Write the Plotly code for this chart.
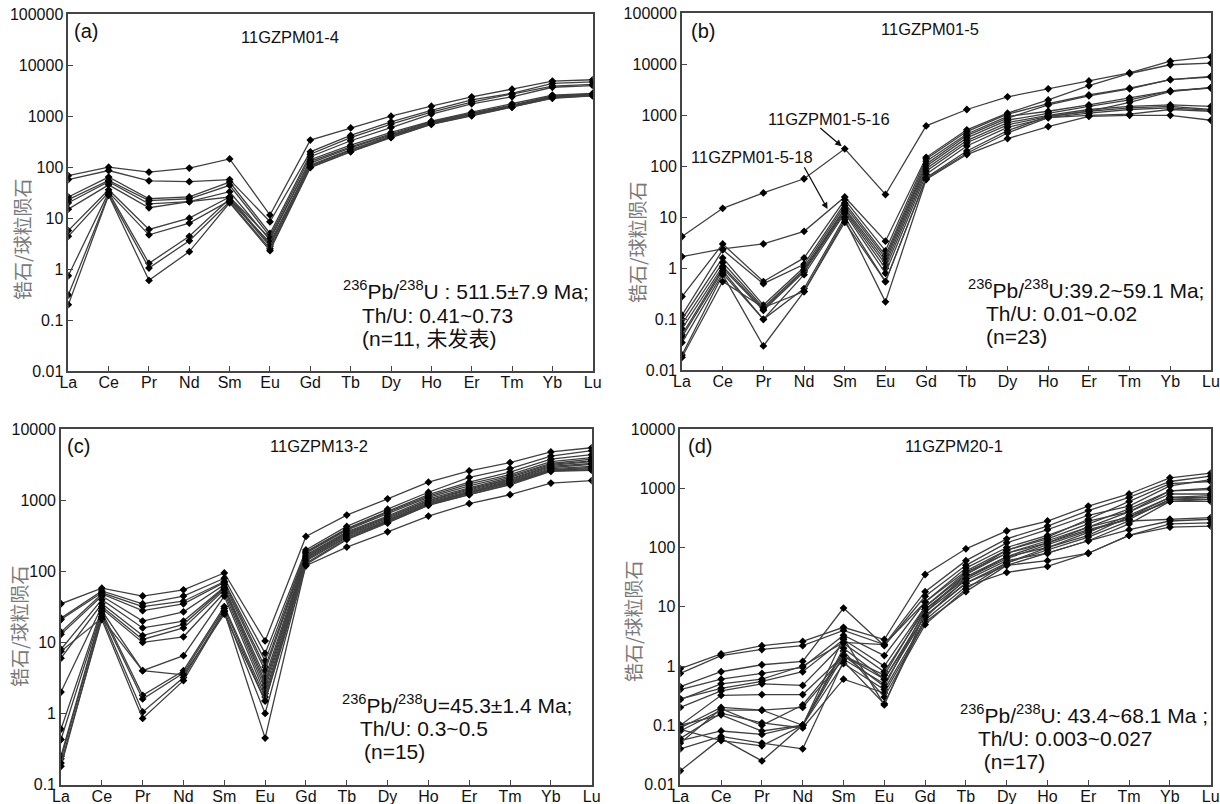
import math
import plotly.graph_objects as go

# ---------------- data ----------------
categories = ["La", "Ce", "Pr", "Nd", "Sm", "Eu", "Gd", "Tb", "Dy", "Ho", "Er", "Tm", "Yb", "Lu"]

yticks_ab = [0.01, 0.1, 1, 10, 100, 1000, 10000, 100000]
ylabels_ab = ["0.01", "0.1", "1", "10", "100", "1000", "10000", "100000"]
yticks_c = [0.1, 1, 10, 100, 1000, 10000]
ylabels_c = ["0.1", "1", "10", "100", "1000", "10000"]
yticks_d = [0.01, 0.1, 1, 10, 100, 1000, 10000]
ylabels_d = ["0.01", "0.1", "1", "10", "100", "1000", "10000"]

# (a) 11GZPM01-4
sample_a = [
    [68, 100, 80, 96, 145, 11.5, 340, 590, 1000, 1570, 2400, 3400, 4900, 5200],
    [57, 86, 54, 52, 57, 8.5, 200, 420, 775, 1300, 2100, 2800, 4400, 4700],
    [26, 64, 24, 26, 51, 5.0, 180, 380, 700, 1200, 1900, 2700, 3900, 4200],
    [23, 55, 22, 24, 44, 4.4, 160, 330, 600, 1100, 1750, 2400, 3700, 4000],
    [20, 52, 19, 21, 33, 3.7, 140, 270, 480, 800, 1200, 1750, 2600, 2800],
    [15, 45, 16, 21, 26, 3.0, 120, 240, 430, 760, 1120, 1600, 2450, 2700],
    [5.7, 36, 6.0, 10, 26, 4.0, 130, 250, 450, 780, 1150, 1650, 2500, 2750],
    [4.4, 32, 4.7, 8.0, 22, 3.3, 110, 220, 400, 730, 1080, 1560, 2400, 2600],
    [0.74, 32, 1.3, 4.4, 24, 2.8, 105, 215, 410, 720, 1050, 1550, 2350, 2600],
    [0.31, 29, 1.05, 3.6, 21, 2.5, 100, 205, 390, 700, 1040, 1520, 2300, 2550],
    [0.2, 28, 0.6, 2.2, 20, 2.3, 98, 200, 380, 690, 1020, 1500, 2250, 2500],
]

# (b) 11GZPM01-5
spot_b16 = [4.2, 15, 30, 57, 220, 28, 620, 1300, 2300, 3300, 4700, 6800, 11500, 14000]
spot_b18 = [1.7, 2.4, 3.0, 5.3, 25, 3.4, 150, 520, 1100, 2000, 3800, 6600, 9800, 10500]
sample_b = [
    spot_b16,
    spot_b18,
    [0.28, 3.0, 0.55, 1.6, 22, 2.2, 140, 480, 1050, 1700, 2500, 3400, 5000, 5800],
    [0.12, 2.3, 0.5, 1.2, 19, 1.8, 125, 430, 950, 1200, 1600, 2200, 3000, 3500],
    [0.1, 1.6, 0.19, 1.05, 17, 1.6, 110, 400, 880, 1600, 2400, 3300, 5000, 5600],
    [0.08, 1.3, 0.17, 0.95, 15, 1.4, 100, 360, 800, 1100, 1500, 2000, 3000, 3400],
    [0.065, 1.1, 0.16, 0.9, 14, 1.2, 90, 320, 720, 1000, 1300, 1500, 1600, 1500],
    [0.05, 1.0, 0.15, 0.85, 13, 1.0, 80, 290, 650, 950, 1200, 1400, 1500, 1300],
    [0.045, 0.9, 0.1, 0.75, 12, 0.8, 70, 250, 580, 900, 1100, 1300, 1400, 1250],
    [0.035, 0.8, 0.1, 0.4, 10, 0.55, 60, 200, 500, 950, 1200, 1800, 2900, 3500],
    [0.02, 0.75, 0.03, 0.35, 9, 0.22, 55, 170, 350, 600, 950, 1000, 1000, 800],
    [0.018, 0.55, 0.17, 0.35, 8, 0.55, 58, 180, 450, 900, 1000, 1050, 1300, 1200],
]

# (c) 11GZPM13-2
sample_c = [
    [35, 58, 45, 55, 95, 10.5, 310, 620, 1050, 1800, 2600, 3400, 4800, 5500],
    [22, 53, 35, 45, 80, 7.0, 200, 430, 750, 1300, 2100, 2800, 4200, 5000],
    [21, 50, 32, 38, 72, 5.5, 190, 400, 700, 1200, 1800, 2500, 3800, 4400],
    [14, 48, 28, 35, 70, 4.5, 185, 390, 680, 1150, 1700, 2300, 3500, 4000],
    [13, 45, 20, 27, 65, 4.0, 180, 380, 650, 1100, 1600, 2200, 3300, 3800],
    [8, 40, 16, 20, 60, 3.2, 170, 360, 600, 1050, 1500, 2100, 3200, 3600],
    [6, 35, 12.5, 18, 58, 2.8, 165, 350, 580, 1000, 1450, 2000, 3100, 3500],
    [2, 32, 11, 16, 55, 2.5, 160, 340, 560, 980, 1400, 1950, 3000, 3300],
    [0.6, 30, 10, 12, 50, 2.2, 155, 330, 540, 950, 1350, 1900, 2900, 3200],
    [0.43, 28, 4, 6.5, 45, 1.9, 150, 320, 520, 920, 1300, 1850, 2800, 3000],
    [0.25, 27, 1.8, 4, 32, 1.7, 145, 310, 510, 900, 1280, 1800, 2700, 2900],
    [0.23, 25, 1.6, 3.7, 30, 1.5, 140, 300, 500, 880, 1250, 1750, 2650, 2800],
    [0.18, 23, 1.05, 3.2, 28, 1.0, 130, 290, 490, 860, 1200, 1700, 2600, 2700],
    [0.2, 21, 0.85, 2.9, 27, 0.45, 125, 280, 480, 850, 1200, 1650, 2550, 2650],
    [7.5, 22, 4, 3.5, 25, 1.5, 120, 220, 360, 600, 900, 1200, 1750, 1900],
]

# (d) 11GZPM20-1
sample_d = [
    [0.9, 1.6, 2.2, 2.6, 4.5, 2.8, 35, 95, 190, 280, 500, 800, 1500, 1800],
    [0.75, 1.5, 1.9, 2.2, 4.0, 2.3, 18, 60, 140, 230, 420, 700, 1300, 1600],
    [0.45, 0.8, 1.05, 1.2, 9.5, 2.2, 15, 50, 120, 200, 350, 500, 1100, 1400],
    [0.4, 0.6, 0.75, 0.95, 3.3, 1.5, 12, 45, 100, 160, 280, 400, 800, 800],
    [0.28, 0.42, 0.55, 0.8, 2.8, 1.0, 10, 38, 80, 130, 220, 330, 700, 700],
    [0.2, 0.38, 0.5, 0.47, 2.4, 0.8, 9, 32, 70, 100, 160, 330, 600, 600],
    [0.1, 0.32, 0.33, 0.33, 1.5, 0.6, 8, 28, 60, 80, 130, 200, 280, 300],
    [0.09, 0.2, 0.18, 0.2, 1.3, 0.5, 7, 25, 50, 60, 80, 160, 250, 260],
    [0.08, 0.18, 0.18, 0.1, 1.1, 0.4, 6, 22, 38, 48, 80, 160, 220, 230],
    [0.06, 0.16, 0.11, 0.09, 0.6, 0.35, 5.5, 18, 50, 80, 130, 250, 600, 650],
    [0.055, 0.08, 0.07, 0.1, 1.8, 0.3, 5, 20, 55, 100, 180, 350, 700, 750],
    [0.04, 0.065, 0.05, 0.04, 1.2, 0.23, 6.5, 30, 70, 120, 220, 400, 900, 950],
    [0.017, 0.06, 0.025, 0.1, 3.0, 0.22, 8, 35, 90, 150, 300, 600, 1200, 1300],
    [0.27, 0.5, 0.6, 1.0, 2.5, 2.3, 12, 40, 90, 140, 250, 450, 900, 1000],
    [0.1, 0.15, 0.08, 0.1, 1.5, 0.45, 9, 30, 65, 110, 190, 300, 650, 700],
    [0.085, 0.055, 0.045, 0.1, 2.0, 0.6, 7, 25, 55, 90, 150, 280, 300, 320],
    [0.05, 0.19, 0.1, 0.22, 1.5, 0.7, 10, 35, 80, 120, 200, 300, 650, 650],
]

panel_letters = ["(a)", "(b)", "(c)", "(d)"]
sample_names = ["11GZPM01-4", "11GZPM01-5", "11GZPM13-2", "11GZPM20-1"]
info_lines = [
    ["<sup>236</sup>Pb/<sup>238</sup>U : 511.5±7.9 Ma;", "Th/U: 0.41~0.73", "(n=11, 未发表)"],
    ["<sup>236</sup>Pb/<sup>238</sup>U:39.2~59.1 Ma;", "Th/U: 0.01~0.02", "(n=23)"],
    ["<sup>236</sup>Pb/<sup>238</sup>U=45.3±1.4 Ma;", "Th/U: 0.3~0.5", "(n=15)"],
    ["<sup>236</sup>Pb/<sup>238</sup>U: 43.4~68.1 Ma ;", "Th/U: 0.003~0.027", " (n=17)"],
]
y_title = "锆石/球粒陨石"

# ---------------- layout geometry (pixels) ----------------
W, H = 1220, 804


def px(x):
    return x / W


def py(y):
    return 1 - y / H


panels = [
    dict(data=sample_a, xd=(68.3, 592.7), yd=(14.3, 371.0), yr=(-2, 5), yt=(yticks_ab, ylabels_ab),
         letter=(72, 31), name=(290, 37), info=[(341, 290), (360, 315), (360, 339)], ytitle=(22, 240)),
    dict(data=sample_b, xd=(682.0, 1211.0), yd=(13.3, 370.3), yr=(-2, 5), yt=(yticks_ab, ylabels_ab),
         letter=(689, 31), name=(930, 29), info=[(966, 289), (984, 313), (984, 336)], ytitle=(636, 243)),
    dict(data=sample_c, xd=(61.0, 591.7), yd=(429.3, 784.5), yr=(-1, 4), yt=(yticks_c, ylabels_c),
         letter=(65, 446), name=(319, 446), info=[(340, 704), (358, 728), (362, 751)], ytitle=(18, 627)),
    dict(data=sample_d, xd=(680.3, 1210.7), yd=(429.0, 784.5), yr=(-2, 4), yt=(yticks_d, ylabels_d),
         letter=(686, 446), name=(954, 446), info=[(958, 714), (976, 738), (976, 761)], ytitle=(632, 622)),
]

xs = list(range(len(categories)))
fig = go.Figure()
annotations = []
tick_font = dict(family="Liberation Sans, Arial, sans-serif", size=16, color="#111111")
axis_color = "#444444"

for i, p in enumerate(panels):
    sfx = "" if i == 0 else str(i + 1)
    for row in p["data"]:
        fig.add_trace(go.Scatter(
            x=xs, y=row, mode="lines+markers",
            line=dict(color="#404040", width=1.3),
            marker=dict(symbol="diamond", size=6, color="#000000"),
            xaxis="x" + sfx, yaxis="y" + sfx, showlegend=False, hoverinfo="skip",
        ))
    fig.layout["xaxis" + sfx] = dict(
        domain=[px(p["xd"][0]), px(p["xd"][1])], anchor="y" + sfx, automargin=False,
        range=[0, len(categories) - 1], tickvals=xs, ticktext=categories,
        ticks="inside", ticklen=5, tickcolor=axis_color, showgrid=False, zeroline=False,
        showline=True, linecolor=axis_color, linewidth=1.6, mirror=True,
        tickfont=tick_font, ticklabelstandoff=-4,
    )
    fig.layout["yaxis" + sfx] = dict(
        domain=[py(p["yd"][1]), py(p["yd"][0])], anchor="x" + sfx, type="log", automargin=False,
        range=list(p["yr"]), tickvals=p["yt"][0], ticktext=p["yt"][1],
        ticks="inside", ticklen=5, tickcolor=axis_color, showgrid=False, zeroline=False,
        showline=True, linecolor=axis_color, linewidth=1.6, mirror=True,
        tickfont=tick_font, ticklabelstandoff=0,
    )
    annotations.append(dict(
        x=px(p["letter"][0]), y=py(p["letter"][1]), xref="paper", yref="paper",
        text=panel_letters[i], showarrow=False, xanchor="left", yanchor="middle",
        font=dict(family="Liberation Sans, Arial, sans-serif", size=20, color="#111111"),
    ))
    annotations.append(dict(
        x=px(p["name"][0]), y=py(p["name"][1]), xref="paper", yref="paper",
        text=sample_names[i], showarrow=False, xanchor="center", yanchor="middle",
        font=dict(family="Liberation Sans, Arial, sans-serif", size=16.5, color="#111111"),
    ))
    for (tx, ty), line in zip(p["info"], info_lines[i]):
        annotations.append(dict(
            x=px(tx), y=py(ty), xref="paper", yref="paper", text=line, showarrow=False,
            xanchor="left", yanchor="middle",
            font=dict(family="Liberation Sans, Arial, 'Noto Sans CJK SC', sans-serif", size=21, color="#111111"),
        ))
    annotations.append(dict(
        x=px(p["ytitle"][0]), y=py(p["ytitle"][1]), xref="paper", yref="paper",
        text=y_title, showarrow=False, textangle=-90, xanchor="center", yanchor="middle",
        font=dict(family="Noto Sans CJK SC, sans-serif", size=19, color="#7a7a7a"),
    ))

# labelled spots in panel (b)
sm_idx = categories.index("Sm")
nd_idx = categories.index("Nd")
annotations.append(dict(
    x=sm_idx, y=math.log10(spot_b16[sm_idx]), xref="x2", yref="y2", text="",
    showarrow=True, arrowhead=2, arrowsize=1, arrowwidth=1.3, arrowcolor="#111111",
    ax=-26, ay=-22, standoff=4,
))
t = 0.6
y18 = math.log10(spot_b18[nd_idx]) + t * (math.log10(spot_b18[sm_idx]) - math.log10(spot_b18[nd_idx]))
annotations.append(dict(
    x=nd_idx + t, y=y18, xref="x2", yref="y2", text="",
    showarrow=True, arrowhead=2, arrowsize=1, arrowwidth=1.3, arrowcolor="#111111",
    ax=-25, ay=-45, standoff=2,
))
annotations.append(dict(
    x=px(829), y=py(119), xref="paper", yref="paper", text="11GZPM01-5-16", showarrow=False,
    xanchor="center", yanchor="middle",
    font=dict(family="Liberation Sans, Arial, sans-serif", size=16.5, color="#111111"),
))
annotations.append(dict(
    x=px(752), y=py(157), xref="paper", yref="paper", text="11GZPM01-5-18", showarrow=False,
    xanchor="center", yanchor="middle",
    font=dict(family="Liberation Sans, Arial, sans-serif", size=16.5, color="#111111"),
))

fig.update_layout(
    width=W, height=H, margin=dict(l=0, r=0, t=0, b=0, autoexpand=False),
    paper_bgcolor="white", plot_bgcolor="white",
    annotations=annotations, showlegend=False,
)

fig.write_html(
    "out.html",
    config={"displayModeBar": False},
    post_script="document.body.style.margin='0px';document.body.style.overflow='hidden';",
)
